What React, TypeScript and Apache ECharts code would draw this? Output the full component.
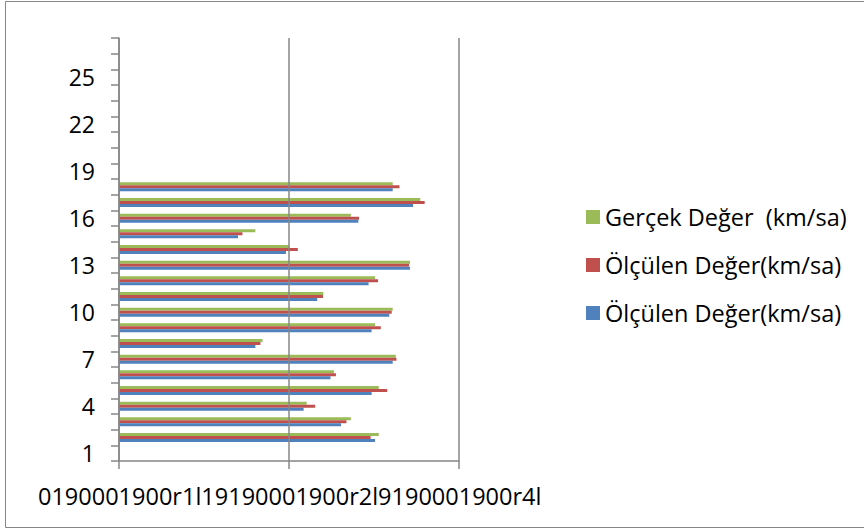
import React, { useEffect, useRef } from "react";
import * as echarts from "echarts";

const categories: string[] = Array.from({ length: 27 }, (_, i) => String(i + 1));
// values for categories 2..18 (category 1 and 19..27 are empty)
const firstDataCategory = 2;
const gercek: number[] = [76.4, 68.2, 55.2, 76.4, 63.2, 81.4, 42.2, 75.3, 80.5, 60.1, 75.3, 85.6, 50.1, 40.1, 68.2, 88.6, 80.5];
const olculenRed: number[] = [74.0, 66.9, 57.7, 78.9, 63.8, 81.6, 41.6, 77.0, 80.2, 60.0, 76.2, 85.3, 52.6, 36.3, 70.6, 89.9, 82.5];
const olculenBlue: number[] = [75.3, 65.3, 54.3, 74.3, 62.2, 80.5, 40.1, 74.3, 79.5, 58.3, 73.4, 85.6, 49.1, 35.0, 70.4, 86.5, 80.5];

const seriesLabels: string[] = ["Gerçek Değer  (km/sa)", "Ölçülen Değer(km/sa)", "Ölçülen Değer(km/sa)"];
const seriesKeys: string[] = ["gercek", "olculen1", "olculen2"];
const xAxisText = "0190001900r1l19190001900r2l9190001900r4l";
const xMin = 0;
const xMax = 100;
const xInterval = 50;

function pad(values: number[]): (number | string)[] {
  return categories.map((_, i) => {
    const j = i - (firstDataCategory - 1);
    return j >= 0 && j < values.length ? values[j] : "-";
  });
}

const FONT = "Open Sans";
const AXIS_COLOR = "#878787";

export default function App() {
  const ref = useRef<HTMLDivElement>(null);
  useEffect(() => {
    if (!ref.current) return;
    const chart = echarts.init(ref.current, undefined, { renderer: "svg" });
    const labelOf = (key: string) => seriesLabels[seriesKeys.indexOf(key)] ?? key;
    const barCommon = {
      type: "bar" as const,
      barWidth: 3,
      barGap: "0%",
    };
    chart.setOption({
      animation: false,
      backgroundColor: "#ffffff",
      grid: { left: 119, top: 38, width: 340, height: 423, containLabel: false },
      legend: {
        orient: "vertical",
        left: 586,
        top: 205,
        itemWidth: 14,
        itemHeight: 14,
        itemGap: 24,
        icon: "rect",
        padding: 0,
        data: [seriesKeys[0], seriesKeys[1], seriesKeys[2]],
        formatter: (name: string) => labelOf(name),
        textStyle: { fontFamily: FONT, fontSize: 23.5, color: "#000", lineHeight: 24 },
        selectedMode: false,
      },
      xAxis: {
        type: "value",
        min: xMin,
        max: xMax,
        interval: xInterval,
        z: 5,
        axisLine: { show: true, lineStyle: { color: AXIS_COLOR, width: 1.5 } },
        axisTick: { show: true, length: 8, lineStyle: { color: AXIS_COLOR, width: 1.5 } },
        axisLabel: { show: false },
        splitLine: { show: true, lineStyle: { color: AXIS_COLOR, width: 1.5 } },
      },
      yAxis: {
        type: "category",
        data: categories,
        boundaryGap: true,
        z: 5,
        axisLine: { show: true, lineStyle: { color: AXIS_COLOR, width: 1.5 } },
        axisTick: { show: true, interval: 0, length: 8, lineStyle: { color: AXIS_COLOR, width: 1.5 } },
        axisLabel: { interval: 2, margin: 24, fontFamily: FONT, fontSize: 23, color: "#000" },
        splitLine: { show: false },
      },
      graphic: [
        {
          type: "rect",
          shape: { x: 5.5, y: 1.5, width: 870, height: 526 },
          style: { fill: "none", stroke: AXIS_COLOR, lineWidth: 1 },
          silent: true,
        },
        {
          type: "text",
          x: 38,
          y: 496,
          style: {
            text: xAxisText,
            font: `23.5px "${FONT}"`,
            fill: "#000",
            align: "left",
            verticalAlign: "middle",
          },
          silent: true,
        },
      ],
      series: [
        { ...barCommon, name: seriesKeys[0], data: pad(gercek), itemStyle: { color: "#9BBB59" } },
        { ...barCommon, name: seriesKeys[1], data: pad(olculenRed), itemStyle: { color: "#C0504D" } },
        { ...barCommon, name: seriesKeys[2], data: pad(olculenBlue), itemStyle: { color: "#4F81BD" } },
      ],
    });
    return () => chart.dispose();
  }, []);
  return <div ref={ref} style={{ position: "fixed", left: 0, top: 0, width: 864, height: 528 }} />;
}
